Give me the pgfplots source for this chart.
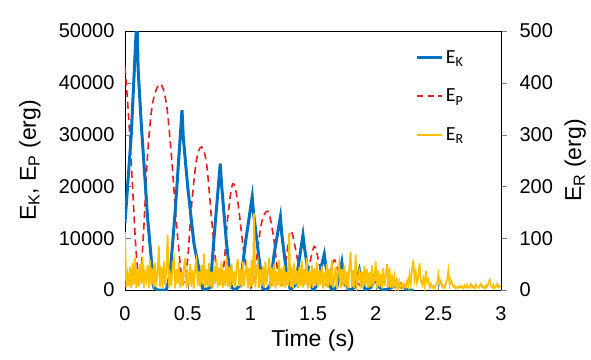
\documentclass[border=0pt]{standalone}
\usepackage{fontspec}
\setmainfont{Liberation Sans}
\newfontfamily\legfont{Carlito}
\usepackage{pgfplots}
\pgfplotsset{compat=1.18}
\definecolor{ekblue}{RGB}{0,112,192}
\definecolor{epred}{RGB}{232,30,30}
\definecolor{eryel}{RGB}{255,192,0}
\begin{document}
\begin{tikzpicture}
\path[use as bounding box] (-125pt,-69pt) rectangle (466pt,290pt);
\begin{axis}[
  at={(0pt,0pt)}, anchor=south west,
  width=376pt, height=259pt, scale only axis,
  xmin=0, xmax=3, ymin=0, ymax=50000,
  xtick={0,0.5,1,1.5,2,2.5,3},
  ytick={0,10000,20000,30000,40000,50000},
  scaled y ticks=false,
  /pgf/number format/assume math mode=true,
  yticklabel style={/pgf/number format/1000 sep={}, xshift=-7pt},
  xticklabel style={yshift=-13pt},
  tick label style={font=\fontsize{20}{22}\selectfont},
  tick align=inside, ytick pos=left, xtick pos=bottom,
  major tick length=6pt,
  axis line style={line width=0.9pt},
  xlabel={Time (s)},
  ylabel={E\textsubscript{K}, E\textsubscript{P} (erg)},
  label style={font=\fontsize{23}{26}\selectfont},
  xlabel style={at={(axis description cs:0.5,-0.195)}, anchor=center},
  ylabel style={at={(axis description cs:-0.253,0.5)}, anchor=center},
  clip=true,
]
\addplot[color=epred, line width=1.6pt, dash pattern=on 7pt off 4.5pt, smooth, tension=0.55] coordinates {
(0,43000)(0.03,33000)(0.06,20000)(0.09,7000)(0.12,2000)(0.15,12000)(0.18,26000)
(0.22,36000)(0.28,39800)(0.33,36000)(0.37,26000)(0.41,13000)(0.45,3000)(0.47,1500)
(0.50,6000)(0.53,16000)(0.57,25000)(0.61,27600)(0.65,24500)(0.69,14000)(0.73,4000)
(0.76,1200)(0.79,5000)(0.82,14000)(0.86,20500)(0.90,17000)(0.95,7000)(1.00,1200)
(1.02,1000)(1.05,6000)(1.09,13000)(1.14,15200)(1.18,11000)(1.22,3500)(1.25,1000)
(1.28,5000)(1.32,11400)(1.36,8000)(1.40,2500)(1.43,800)(1.46,3500)(1.51,8400)
(1.55,5000)(1.59,1000)(1.62,2000)(1.67,5800)(1.71,2500)(1.74,500)(1.77,2000)
(1.80,4000)(1.84,2500)(1.88,800)(1.92,2500)(1.96,3500)(2.00,2000)(2.05,500)
(2.10,1000)(2.15,1500)(2.20,500)(2.25,0)
};
\addplot[color=ekblue, line width=3pt] coordinates {
(0,13000)(0.05,30000)(0.095,53000)(0.105,42500)(0.13,32000)(0.18,14000)(0.23,500)
(0.26,0)(0.33,0)(0.36,3000)(0.40,15000)(0.455,34700)(0.465,29500)(0.50,20000)
(0.55,9000)(0.62,300)(0.64,0)(0.68,500)(0.71,10000)(0.76,24400)(0.77,20500)
(0.81,9000)(0.85,500)(0.88,0)(0.92,1000)(0.96,9000)(1.015,18000)(1.025,15000)
(1.07,6000)(1.10,300)(1.13,0)(1.16,1000)(1.19,7000)(1.24,14100)(1.25,11000)
(1.29,3000)(1.32,0)(1.36,1000)(1.42,10600)(1.43,8500)(1.47,2000)(1.50,0)
(1.53,800)(1.59,6900)(1.60,5000)(1.64,500)(1.66,0)(1.69,600)(1.73,5400)
(1.74,3500)(1.78,200)(1.80,0)(1.83,500)(1.87,3900)(1.89,1500)(1.92,0)
(1.96,500)(2.00,2000)(2.03,500)(2.06,0)(2.10,200)(2.20,1200)(2.25,0)(2.30,0)
};
\end{axis}
\begin{axis}[
  at={(0pt,0pt)}, anchor=south west,
  width=376pt, height=259pt, scale only axis,
  xmin=0, xmax=3, ymin=0, ymax=500,
  axis x line=none, axis y line*=right,
  ytick={0,100,200,300,400,500},
  /pgf/number format/assume math mode=true,
  yticklabel style={xshift=9pt},
  tick label style={font=\fontsize{20}{22}\selectfont},
  tick align=outside, major tick length=6pt,
  axis line style={line width=0.9pt},
  ylabel={E\textsubscript{R} (erg)},
  label style={font=\fontsize{23}{26}\selectfont},
  ylabel style={at={(axis description cs:1.197,0.5)}, anchor=center},
  clip=true,
  legend style={draw=none, fill=none, at={(rel axis cs:0.765,0.94)}, anchor=north west,
    font=\legfont\fontsize{20}{22}\selectfont, row sep=20pt},
  legend cell align=left,
  legend image code/.code={\draw[#1] (0pt,0pt) -- (25pt,0pt);},
]
\addlegendimage{color=ekblue, line width=3pt}
\addlegendentry{E\textsubscript{K}}
\addlegendimage{color=epred, line width=1.6pt, dash pattern=on 6pt off 4.5pt}
\addlegendentry{E\textsubscript{P}}
\addlegendimage{color=eryel, line width=2pt}
\addlegendentry{E\textsubscript{R}}
\addplot[color=eryel, line width=1.7pt, forget plot] coordinates {
(0.00,112)(0.01,5)(0.02,30)(0.03,8)(0.04,45)(0.05,3)(0.06,52)(0.07,10)(0.08,62)(0.09,4)
(0.10,40)(0.11,6)(0.12,50)(0.13,12)(0.14,65)(0.15,4)(0.16,35)(0.17,20)(0.18,48)(0.19,3)
(0.20,58)(0.21,9)(0.22,42)(0.23,5)(0.24,52)(0.25,14)(0.26,30)(0.27,85)(0.28,6)(0.29,45)
(0.30,4)(0.31,55)(0.32,10)(0.33,38)(0.34,106)(0.35,5)(0.36,28)(0.37,8)(0.38,48)(0.39,60)
(0.40,3)(0.41,40)(0.42,12)(0.43,52)(0.44,5)(0.45,35)(0.46,7)(0.47,44)(0.48,62)(0.49,4)
(0.50,30)(0.51,9)(0.52,50)(0.53,6)(0.54,38)(0.55,3)(0.56,45)(0.57,58)(0.58,8)(0.59,36)
(0.60,5)(0.61,48)(0.62,11)(0.63,70)(0.64,4)(0.65,40)(0.66,7)(0.67,52)(0.68,6)(0.69,35)
(0.70,3)(0.71,46)(0.72,12)(0.73,60)(0.74,5)(0.75,42)(0.76,9)(0.77,55)(0.78,4)(0.79,38)
(0.80,8)(0.81,64)(0.82,6)(0.83,45)(0.84,3)(0.85,50)(0.86,10)(0.87,36)(0.88,5)(0.89,44)
(0.90,60)(0.91,7)(0.92,40)(0.93,4)(0.94,55)(0.95,8)(0.96,35)(0.97,48)(0.98,3)(0.99,42)
(1.00,6)(1.01,58)(1.02,9)(1.03,148)(1.04,5)(1.05,35)(1.06,50)(1.07,4)(1.08,40)(1.09,8)
(1.10,46)(1.11,5)(1.12,55)(1.13,10)(1.14,38)(1.15,62)(1.16,4)(1.17,44)(1.18,7)(1.19,50)
(1.20,3)(1.21,36)(1.22,9)(1.23,58)(1.24,5)(1.25,42)(1.26,6)(1.27,48)(1.28,4)(1.29,35)
(1.30,8)(1.31,110)(1.32,5)(1.33,45)(1.34,3)(1.35,52)(1.36,10)(1.37,38)(1.38,4)(1.39,44)
(1.40,7)(1.41,56)(1.42,5)(1.43,40)(1.44,9)(1.45,62)(1.46,3)(1.47,36)(1.48,6)(1.49,48)
(1.50,4)(1.51,42)(1.52,8)(1.53,54)(1.54,5)(1.55,38)(1.56,10)(1.57,46)(1.58,3)(1.59,34)
(1.60,6)(1.61,50)(1.62,4)(1.63,40)(1.64,9)(1.65,58)(1.66,5)(1.67,22)(1.68,44)(1.69,3)
(1.70,36)(1.71,52)(1.72,4)(1.73,40)(1.74,8)(1.75,48)(1.76,5)(1.77,35)(1.78,3)(1.79,45)
(1.80,74)(1.81,6)(1.82,38)(1.83,4)(1.84,68)(1.85,9)(1.86,22)(1.87,42)(1.88,3)(1.89,36)
(1.90,5)(1.91,46)(1.92,8)(1.93,40)(1.94,4)(1.95,35)(1.96,6)(1.97,48)(1.98,10)(1.99,18)
(2.00,55)(2.01,4)(2.02,38)(2.03,6)(2.04,32)(2.05,3)(2.06,42)(2.07,8)(2.08,28)(2.09,50)
(2.10,5)(2.11,43)(2.12,4)(2.13,30)(2.14,3)(2.15,25)(2.16,5)(2.17,20)(2.18,3)(2.19,16)
(2.20,6)(2.21,12)(2.22,4)(2.23,10)(2.24,5)(2.25,18)(2.26,8)(2.27,30)(2.28,12)(2.29,40)
(2.30,58)(2.31,20)(2.32,35)(2.33,14)(2.34,25)(2.35,52)(2.36,18)(2.37,10)(2.38,22)(2.39,8)
(2.40,37)(2.41,15)(2.42,20)(2.43,6)(2.44,12)(2.45,4)(2.46,8)(2.47,3)(2.48,10)(2.49,14)
(2.50,30)(2.51,12)(2.52,18)(2.53,6)(2.54,9)(2.55,4)(2.56,12)(2.57,20)(2.58,38)(2.59,10)
(2.60,20)(2.61,14)(2.62,6)(2.63,8)(2.64,3)(2.65,6)(2.66,4)(2.67,8)(2.68,5)(2.69,7)
(2.70,3)(2.71,9)(2.72,5)(2.73,10)(2.74,4)(2.75,6)(2.76,12)(2.77,5)(2.78,8)(2.79,3)
(2.80,10)(2.81,6)(2.82,4)(2.83,8)(2.84,12)(2.85,5)(2.86,7)(2.87,3)(2.88,9)(2.89,6)
(2.90,14)(2.91,20)(2.92,8)(2.93,5)(2.94,10)(2.95,4)(2.96,7)(2.97,12)(2.98,5)(2.99,8)(3.00,6)
};
\end{axis}
\end{tikzpicture}
\end{document}
